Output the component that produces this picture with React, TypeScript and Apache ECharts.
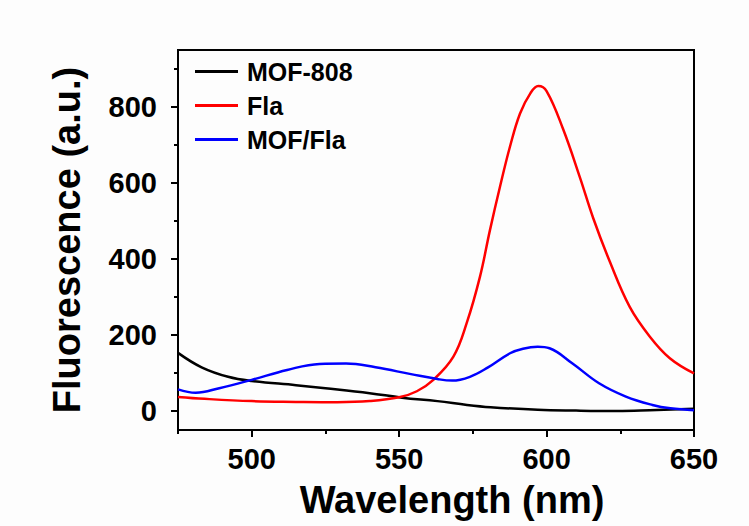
import React, { useEffect, useRef } from "react";
import * as echarts from "echarts";

const xTickLabels = [500, 550, 600, 650];
const xMinorTicks = [475, 525, 575, 625];
const yTickLabels = [0, 200, 400, 600, 800];
const yMinorTicks = [100, 300, 500, 700, 900];

const seriesNames = ["MOF-808", "Fla", "MOF/Fla"];

const mof808: number[][] = [
  [475, 153], [483, 115], [492, 90], [500, 79], [515, 68], [525, 60], [540, 47],
  [551, 35], [563, 26], [573, 16], [581, 10], [597, 3], [610, 1], [624, 0],
  [635, 2], [650, 6],
];

const fla: number[][] = [
  [475, 37], [484, 32], [500, 26], [515, 24], [529, 23], [540, 26], [550, 36],
  [556, 52], [561.6, 82], [568.4, 143], [572.9, 231], [577.4, 353],
  [580.8, 476], [584.2, 590], [587.6, 696], [591, 783], [594.5, 836],
  [597.2, 855], [600, 842], [605.6, 742], [611.3, 615], [615.8, 508],
  [621.4, 394], [628.2, 274], [635, 196], [641.8, 139], [650, 99],
];

const mofFla: number[][] = [
  [475, 57], [481, 48], [489, 60], [500, 82], [512, 108], [523, 124],
  [532, 125], [542, 115], [554, 97], [563, 84], [568, 80], [574, 90],
  [580, 114], [587.6, 152], [592, 164], [597, 169], [601, 165],
  [608.8, 125], [617.8, 73], [626.9, 38], [635.9, 16], [642, 7], [650, 2],
];

const FONT = '"Liberation Sans", Arial, sans-serif';

export default function App() {
  const ref = useRef<HTMLDivElement>(null);

  useEffect(() => {
    if (!ref.current) return;
    const chart = echarts.init(ref.current, null, { renderer: "svg" });
    const xMin = 475, xMax = 650, yMin = -50, yMax = 950;
    const baseAxisX = {
      type: "value" as const,
      min: xMin,
      max: xMax,
      position: "bottom" as const,
      splitLine: { show: false },
    };
    const baseAxisY = {
      type: "value" as const,
      min: yMin,
      max: yMax,
      position: "left" as const,
      splitLine: { show: false },
    };
    const lineSeries = (name: string, data: number[][], color: string) => ({
      name,
      type: "line",
      xAxisIndex: 0,
      yAxisIndex: 0,
      data,
      smooth: 0.4,
      symbol: "none",
      lineStyle: { color, width: 2.5 },
      itemStyle: { color },
    });
    chart.setOption({
      animation: false,
      backgroundColor: "#fdfdfd",
      grid: {
        left: 178,
        right: 55,
        top: 50,
        bottom: 96,
        show: true,
        borderColor: "#000",
        borderWidth: 2,
        backgroundColor: "transparent",
      },
      legend: {
        orient: "vertical",
        left: 195,
        top: 59,
        padding: 0,
        itemGap: 9,
        itemWidth: 43,
        itemHeight: 3,
        icon: "rect",
        data: seriesNames,
        textStyle: {
          fontFamily: FONT,
          fontWeight: "bold",
          fontSize: 25,
          color: "#000",
          padding: [0, 0, 0, 4],
        },
      },
      xAxis: [
        {
          ...baseAxisX,
          axisLine: { show: true, onZero: false, lineStyle: { color: "#000", width: 2 } },
          axisTick: { show: true, inside: false, length: 7, customValues: xTickLabels, lineStyle: { color: "#000", width: 2 } },
          axisLabel: {
            show: true,
            customValues: xTickLabels,
            margin: 14,
            fontFamily: FONT,
            fontWeight: "bold",
            fontSize: 29,
            color: "#000",
          },
        },
        {
          ...baseAxisX,
          axisLine: { show: false, onZero: false },
          axisTick: { show: true, inside: false, length: 4, customValues: xMinorTicks, lineStyle: { color: "#000", width: 2 } },
          axisLabel: { show: false },
        },
      ],
      yAxis: [
        {
          ...baseAxisY,
          axisLine: { show: true, onZero: false, lineStyle: { color: "#000", width: 2 } },
          axisTick: { show: true, inside: false, length: 7, customValues: yTickLabels, lineStyle: { color: "#000", width: 2 } },
          axisLabel: {
            show: true,
            customValues: yTickLabels,
            margin: 21,
            fontFamily: FONT,
            fontWeight: "bold",
            fontSize: 29,
            color: "#000",
          },
        },
        {
          ...baseAxisY,
          axisLine: { show: false, onZero: false },
          axisTick: { show: true, inside: false, length: 4, customValues: yMinorTicks, lineStyle: { color: "#000", width: 2 } },
          axisLabel: { show: false },
        },
      ],
      graphic: [
        {
          type: "text",
          x: 452,
          y: 500,
          style: {
            text: "Wavelength (nm)",
            fontFamily: FONT,
            fontWeight: "bold",
            fontSize: 38,
            fill: "#000",
            textAlign: "center",
            textVerticalAlign: "middle",
          },
        },
        {
          type: "text",
          x: 67,
          y: 240,
          rotation: Math.PI / 2,
          style: {
            text: "Fluorescence (a.u.)",
            fontFamily: FONT,
            fontWeight: "bold",
            fontSize: 38,
            fill: "#000",
            textAlign: "center",
            textVerticalAlign: "middle",
          },
        },
      ],
      series: [
        lineSeries(seriesNames[0], mof808, "#000000"),
        lineSeries(seriesNames[1], fla, "#ff0000"),
        lineSeries(seriesNames[2], mofFla, "#0000ff"),
      ],
    });
    return () => chart.dispose();
  }, []);

  return (
    <div
      ref={ref}
      style={{ position: "absolute", left: 0, top: 0, width: 749, height: 526 }}
    />
  );
}
